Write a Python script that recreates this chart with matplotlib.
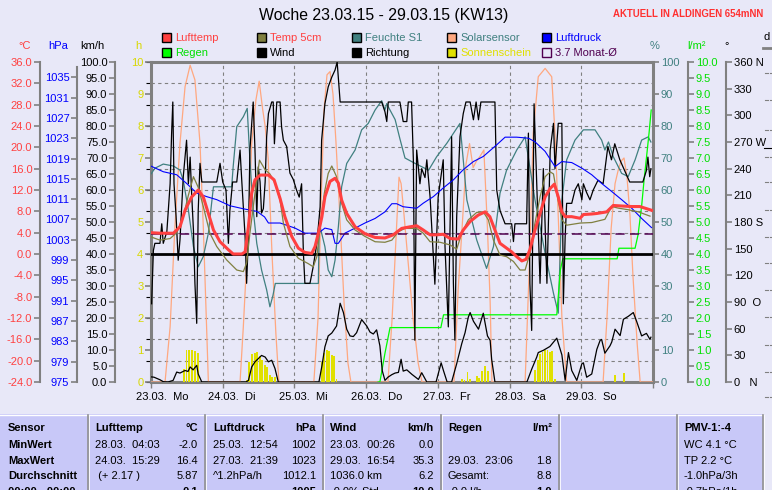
import numpy as np
import matplotlib.pyplot as plt
from matplotlib.patches import Rectangle
from matplotlib.lines import Line2D

plt.rcParams['font.family'] = ['Liberation Sans', 'DejaVu Sans']
plt.rcParams['font.size'] = 8

W, H = 772, 490
BG = '#e8e8f8'
TABLE_BG = '#c8c8f8'
GRID = '#808080'

# time axis: hours since 23.03. 00:00
day_labels = ['23.03.  Mo', '24.03.  Di', '25.03.  Mi', '26.03.  Do',
              '27.03.  Fr', '28.03.  Sa', '29.03.  So']

# Lufttemp (degC)
temp_t = [0, 3, 7.5, 9.7, 11.4, 13.6, 15.8, 17.5, 19.2, 20.9, 23.1, 25.9, 27.5, 30.4, 31.5,
          32.6, 33.7, 34.8, 36.5, 39.3, 41.2, 43.2, 44.8, 47.1, 49.3, 51.5, 53.8, 54.9, 56.0,
          57.2, 58.2, 59.9, 61.6, 62.7, 63.8, 65.5, 68.3, 71.6, 75.0, 78.3, 81.1, 83.9, 86.7,
          88.9, 91.1, 93.4, 95.6, 97.8, 100.1, 102.8, 104.5, 106.8, 109.5, 111.8, 113.4, 115.1,
          116.8, 119.0, 120.7, 122.4, 124.1, 125.5, 126.8, 128.5, 130.2, 131.9, 133.6, 135.0,
          136.3, 137.5, 138.6, 140.8, 143.6, 144.7, 147.5, 149.2, 152.5, 154.7, 157.5, 160.9,
          163.6, 165.3, 167.5]
temp_v = [4.0, 3.9, 3.9, 5.1, 8.2, 10.7, 12.0, 10.7, 7.6, 4.5, 2.3, 0.8, 0.0, 0.0, 0.4,
          5.1, 11.4, 13.9, 14.8, 14.8, 13.9, 10.4, 7.0, 3.3, 1.1, 0.3, 0.1, 1.4, 3.9,
          7.0, 10.7, 13.6, 14.2, 13.3, 10.1, 7.6, 5.1, 3.8, 3.1, 3.0, 3.6, 4.8, 5.1,
          5.3, 4.5, 3.6, 3.6, 3.7, 2.9, 2.8, 4.5, 6.1, 7.3, 7.9, 7.0, 4.5,
          2.0, 1.1, 0.4, -0.5, -1.3, -1.0, 0.8, 4.5, 7.6, 10.7, 12.3, 13.1,
          10.7, 7.9, 7.0, 7.0, 6.7, 7.4, 7.5, 7.6, 7.9, 9.1, 9.0, 8.9,
          8.9, 8.6, 8.2]

# Temp 5cm (degC)
soil_t = [0, 3.0, 6.4, 8.6, 10.8, 12.5, 14.2, 15.8, 17.5, 19.7, 22.0, 25.3, 28.7, 30.9, 32.0,
          33.1, 34.8, 36.3, 38.2, 39.8, 41.5, 43.2, 44.3, 46.5, 49.3, 52.6, 54.3, 55.5, 56.6,
          58.0, 59.3, 60.5, 62.1, 63.8, 65.5, 68.3, 71.6, 75.0, 78.3, 80.6, 82.8, 85.0, 88.9,
          91.1, 93.4, 96.7, 100.1, 102.3, 104.0, 106.2, 109.0, 111.2, 112.9, 114.6, 116.8,
          119.0, 121.3, 123.5, 125.2, 126.8, 128.5, 130.2, 131.9, 133.6, 134.7, 135.8, 137.5,
          139.1, 143.6, 147.5, 151.9, 154.2, 156.4, 159.7, 163.1, 167.0]
soil_v = [3.2, 2.6, 2.9, 4.0, 7.0, 11.0, 14.5, 12.5, 8.9, 3.9, 1.4, -1.1, -3.0, -3.3, -1.7,
          3.9, 11.4, 17.6, 15.8, 15.0, 13.3, 10.1, 5.8, 1.4, -0.8, -1.8, -2.4, -0.5, 5.1,
          11.4, 15.1, 16.5, 14.5, 9.5, 6.4, 4.5, 3.3, 2.3, 2.2, 2.6, 4.2, 4.8, 4.8,
          3.9, 2.3, 2.2, 1.7, 0.9, 3.9, 6.4, 7.8, 7.9, 6.4, 2.6, -0.2,
          -0.5, -1.4, -3.0, -3.0, 0.1, 5.8, 10.7, 14.5, 15.4, 15.0, 11.4, 6.4,
          5.4, 5.8, 5.9, 6.5, 8.9, 8.6, 8.3, 7.9, 7.1]

# Luftdruck (hPa)
press_t = [0, 4.1, 8.6, 11.9, 15.3, 18.6, 22.0, 26.4, 30.9, 35.4, 38.0, 39.3, 43.2, 48.2, 51.5,
           56.0, 58.2, 60.5, 61.6, 62.7, 64.9, 68.3, 71.6, 75.0, 78.3, 80.6, 82.2, 84.4, 88.9,
           91.1, 94.5, 97.8, 101.2, 104.5, 107.9, 111.2, 115.7, 118.5, 122.4, 126.3, 128.5,
           131.9, 135.2, 137.5, 140.8, 144.2, 147.5, 150.8, 154.2, 157.5, 160.9, 164.2, 167.5]
press_v = [1017.5, 1016.4, 1015.8, 1014.1, 1012.2, 1011.5, 1010.9, 1009.7, 1009.1, 1008.6,
           1007.5, 1006.3, 1006.3, 1005.3, 1004.3, 1004.3, 1005.3, 1005.0, 1002.3, 1002.3,
           1004.3, 1005.3, 1006.3, 1007.2, 1008.5, 1010.1, 1010.1, 1009.5, 1009.2, 1010.2,
           1011.5, 1013.2, 1014.8, 1016.8, 1018.4, 1019.4, 1021.7, 1023.2, 1023.2, 1023.0,
           1022.3, 1020.4, 1017.4, 1018.4, 1018.2, 1017.1, 1015.8, 1014.1, 1012.5, 1010.9,
           1009.2, 1007.2, 1005.4]

# Feuchte S1 (%)
hum_t = [0, 1.3, 4.1, 7.5, 9.7, 10.8, 12.5, 14.2, 15.8, 17.5, 19.2, 20.3, 20.9, 27.0, 27.5,
         28.7, 30.9, 32.2, 33.1, 34.2, 35.4, 37.0, 38.7, 39.8, 40.8, 41.6, 56.0, 56.3, 58.2,
         59.3, 60.5, 61.6, 62.7, 63.8, 65.5, 68.3, 70.5, 72.7, 75.0, 77.2, 78.3, 78.9, 79.4,
         81.7, 83.3, 85.0, 88.4, 92.9, 95.6, 99.0, 103.4, 104.5, 105.7, 109.0, 112.3, 114.6,
         116.8, 119.0, 122.4, 125.2, 128.5, 131.9, 134.7, 136.3, 137.5, 139.1, 141.9, 144.7,
         148.6, 150.8, 151.9, 153.1, 154.7, 157.5, 159.7, 162.0, 164.2, 166.4, 167.3]
hum_v = [65, 66.8, 68.1, 67.5, 66.2, 63, 53.8, 42.3, 36, 39.2, 46.5, 56, 61, 61, 67.3,
         79.8, 82.9, 85.5, 69.4, 53.8, 43.3, 35, 28.8, 23.5, 27, 30.8, 30.8, 49.6, 42.3,
         35, 32.9, 38.1, 48.5, 61, 68.3, 72.5, 78.8, 80.8, 85, 87.9, 85, 87, 86,
         82, 76, 70, 68.3, 66.2, 70.4, 74.6, 80.8, 69.4, 56.9, 44.4, 35.5, 42.3,
         59, 66.2, 72.5, 76.6, 56.9, 40.2, 27.7, 21.5, 56.9, 69.4, 75.6, 78.8,
         78.8, 75.6, 72.5, 75, 70.4, 65.2, 64.2, 69.4, 75.6, 76.6, 75]

# Solarsensor (W/m2)
solar_t = [0, 4.0, 4.7, 6.4, 8.0, 9.7, 11.4, 13.1, 14.7, 16.4, 17.5, 18.6, 19.2,
           29.8, 30.9, 32.6, 33.7, 35.1, 36.2, 37.4, 38.2, 39.2, 40.5, 41.8, 42.8,
           54.5, 55.9, 56.9, 57.9, 58.9, 59.9, 60.9, 61.9, 63.3, 64.6, 65.9, 66.9,
           79.3, 80.7, 82.0, 83.0, 83.7, 84.7, 86.0, 87.7, 89.4, 90.7,
           101.4, 102.8, 104.1, 105.4, 106.6, 107.8, 108.9, 110.1, 111.4, 112.6, 113.5, 114.1,
           125.2, 126.8, 127.9, 129.6, 131.9, 134.1, 135.2, 136.3, 137.5, 139.1,
           151.3, 152.6, 154.0, 155.3, 156.3, 157.3, 158.3, 159.3, 160.3, 161.3, 162.7, 163.7,
           168]
solar_v = [0, 0, 0, 173, 485, 746, 923, 990, 944, 746, 485, 173, 0,
           0, 173, 485, 746, 881, 940, 850, 800, 700, 400, 150, 0,
           0, 200, 550, 850, 960, 970, 900, 750, 500, 250, 60, 0,
           0, 200, 450, 640, 620, 520, 380, 200, 60, 0,
           0, 290, 480, 680, 745, 670, 690, 705, 725, 480, 250, 0,
           0, 412, 777, 954, 980, 954, 777, 516, 204, 0,
           0, 200, 480, 620, 660, 690, 700, 640, 520, 330, 120, 0,
           0]

# Sonnenschein (h per interval)
sun_t = [11.0, 11.9, 12.8, 13.8, 14.8, 15.7,
         32.0, 32.9, 33.9, 34.8, 35.6, 36.5, 37.2, 38.2, 38.9, 39.8, 40.6, 41.4,
         57.1, 58.0, 58.8, 59.6, 60.5, 61.2, 62.1,
         104.0, 104.9, 105.9, 106.8, 109.0, 109.9, 110.9, 111.9, 112.8,
         128.5, 129.4, 130.2, 131.0, 131.9, 132.7, 133.6, 134.3, 135.2,
         155.3, 158.3]
sun_v = [0.42, 1.0, 1.0, 1.0, 0.97, 0.92,
         0.06, 0.63, 0.88, 0.92, 0.95, 0.8, 0.7, 0.53, 0.47, 0.22, 0.17, 0.15,
         0.62, 0.92, 1.0, 0.97, 0.85, 0.8, 0.1,
         0.08, 0.05, 0.3, 0.1, 0.2, 0.12, 0.35, 0.5, 0.35,
         0.38, 0.7, 0.88, 0.95, 1.0, 1.0, 0.95, 0.97, 0.1,
         0.22, 0.27]

# Wind (km/h)
wind_t = [0, 1.0, 2.0, 3.0, 4.1, 5.7, 7.4, 8.6, 9.7, 11.4, 12.4, 13.1, 14.1, 15.3, 15.8, 17.0,
          31.8, 32.6, 33.7, 34.8, 35.9, 37.0, 38.2, 39.3, 40.4, 41.5, 42.6,
          56.2, 57.2, 58.2, 59.3, 60.5, 62.1, 63.3, 64.4, 65.5, 66.6, 67.7, 68.8, 70.5, 72.2,
          73.3, 74.4, 75.5, 76.6, 77.4, 78.3, 79.3, 80.6, 81.7, 82.8, 83.7, 84.4, 85.6, 87.3,
          89.5, 90.6, 92.3,
          95.4, 97.1, 97.9, 99.1, 100.6, 102.3, 104.0, 105.1, 106.2, 106.8, 107.9, 109.6,
          111.2, 112.6, 113.5, 114.0, 115.1,
          125.8, 127.4, 129.1, 129.6, 131.3, 133.5, 135.8, 137.5, 138.6, 139.7, 140.8, 142.5,
          144.2, 144.7, 145.8, 147.5, 149.2, 150.3, 150.8, 151.9, 153.6, 154.2, 155.3, 157.0,
          158.1, 159.7, 161.4, 162.5, 164.2, 165.8, 167.0, 167.3]
wind_v = [1.6, 1.5, 1.1, 0.7, 0.1, 0, 0.5, 3.1, 2.8, 3.6, 3.3, 4.7, 3.8, 5.2, 2.5, 0,
          0, 0.5, 4.7, 6.3, 7.3, 8.3, 7.8, 6.3, 6.8, 4.2, 0,
          0, 5, 11, 14.4, 15.3, 17.5, 24.6, 21.7, 16.5, 14.4, 14.2, 15.4, 19.5, 17.5,
          15.6, 15, 16.3, 11.3, 3.5, 0.5, 1.5, 2.3, 2.8, 3.0, 7.1, 3.4, 3.8, 2.4,
          0.8, 2.9, 0,
          0, 6.0, 3.5, 0, 0, 5.7, 12, 15.4, 20.3, 21.7, 19, 16.5,
          21.5, 14.4, 13, 7.1, 0,
          0, 4.0, 7.8, 9.2, 9.9, 11.1, 13.7, 8.5, 0.5, 9.2, 3.6, 0.5,
          5.7, 6.0, 1.5, 2.5, 10.2, 13, 13.3, 9, 11.3, 12.5, 16.5, 14.5,
          19.6, 20.5, 21.7, 19, 14.4, 15.2, 13.3, 14]

# Richtung (deg)
dir_t = [0.2, 0.8, 1.3, 3.0, 3.6, 4.1, 5.3, 6.4, 6.9, 7.3, 7.7, 8.4, 9.1, 9.7, 10.8, 11.9,
         12.5, 13.1, 13.6, 14.2, 14.7, 15.3, 15.8, 16.4, 17.0, 22.0, 23.1, 24.0, 25.1, 25.9,
         26.4, 27.3, 28.7, 29.8, 30.4, 31.5, 32.0, 32.6, 33.1, 34.2, 34.8, 35.4, 35.9, 36.5,
         37.0, 37.6, 38.2, 38.7, 39.3, 40.4, 40.9, 41.3, 42.1, 43.2, 43.7, 44.3, 45.4, 46.5,
         47.6, 48.7, 49.6, 50.4, 51.0, 51.5, 53.2, 54.3, 55.5, 56.6, 57.1, 58.2, 59.3, 60.5,
         61.6, 62.3, 63.3, 77.2, 78.3, 78.9, 79.4, 83.3, 84.4, 85.6, 86.1, 87.2, 87.8, 88.3,
         88.9, 90.0, 90.6, 91.7, 92.3, 93.4, 95.0, 96.1, 97.8, 98.4, 99.5, 100.6, 101.2, 101.7,
         102.3, 103.4, 104.5, 105.4, 106.8, 107.9, 108.8, 109.6, 110.4, 115.1, 115.7, 116.8,
         118.5, 120.7, 121.3, 121.8, 125.7, 126.3, 126.8, 127.4, 128.2, 129.1, 130.2, 131.3,
         132.5, 133.6, 134.7, 135.2, 136.3, 137.5, 138.0, 138.6, 139.1, 140.8, 141.9, 143.0,
         144.2, 144.7, 145.8, 146.9, 148.0, 149.6, 151.3, 152.9, 154.1, 155.2, 156.9, 158.5,
         160.2, 164.6, 165.8, 166.3, 166.9, 167.3]
dir_v = [88, 148, 156, 156, 178, 156, 169, 223, 280, 315, 223, 186, 137, 160, 231, 272,
         223, 253, 212, 171, 111, 66, 193, 246, 225, 225, 246, 225, 216, 156,
         193, 225, 225, 261, 225, 163, 111, 163, 261, 315, 261, 186, 242, 225,
         190, 195, 225, 276, 302, 315, 315, 268, 315, 315, 287, 272, 265, 235,
         228, 216, 208, 223, 145, 111, 111, 130, 156, 197, 272, 313, 332, 343,
         351, 360, 315, 315, 304, 293, 315, 315, 293, 293, 315, 315, 250, 47,
         261, 223, 240, 230, 250, 208, 110, 208, 250, 152, 62, 276, 111, 47,
         186, 276, 302, 315, 315, 295, 315, 295, 315, 315, 216, 193,
         178, 178, 158, 178, 178, 280, 111, 58, 313, 223, 111, 240,
         111, 261, 291, 240, 291, 291, 88, 163, 201, 201, 216, 223,
         205, 223, 213, 205, 216, 227, 223, 265, 250, 268, 250, 238,
         225, 225, 238, 253, 231, 240]

# Regen (l/m2, cumulative)
rain_t = [76.0, 76.6, 78.3, 80.0, 97.0, 97.9, 135.8, 137.0, 137.8, 156.0, 156.6, 162.0,
          163.0, 164.2, 165.0, 165.8, 166.7, 167.4]
rain_v = [0, 0, 0.9, 1.7, 1.7, 2.1, 2.1, 3.5, 3.85, 3.85, 4.18, 4.18,
          4.6, 5.5, 6.3, 7.0, 7.8, 8.5]

month_mean = 3.7

# table below the chart
table_cols = [
    ['Sensor', 'MinWert', 'MaxWert', 'Durchschnitt'],
    ['28.03.  04:03', '24.03.  15:29', ' (+ 2.17 )'],
    ['-2.0', '16.4', '5.87'],
    ['25.03.  12:54', '27.03.  21:39', '^1.2hPa/h'],
    ['1002', '1023', '1012.1'],
    ['23.03.  00:26', '29.03.  16:54', '1036.0 km'],
    ['0.0', '35.3', '6.2'],
    ['', '29.03.  23:06', 'Gesamt:'],
    ['', '1.8', '8.8'],
    ['WC 4.1 \u00b0C', 'TP 2.2 \u00b0C', '-1.0hPa/3h'],
]
table_heads = [('Lufttemp', '\u00b0C'), ('Luftdruck', 'hPa'), ('Wind', 'km/h'), ('Regen', 'l/m\u00b2')]
# last row, only the top of it is inside the picture
table_cut = [(8, 'left', '00:00 - 00:00', True), (198, 'right', '0.1', True),
             (316, 'right', '1005', True), (330, 'left', '-0.0% Std.', False),
             (434, 'right', '10.0', True), (448, 'left', '-0.0 l/h', False),
             (552, 'right', '1.0', True), (684, 'left', '-0.7hPa/1h', False)]


def fx(x):
    return x / W


def fy(y):
    return 1 - y / H


fig = plt.figure(figsize=(W / 100, H / 100), dpi=100, facecolor=BG)

ax = fig.add_axes([fx(151), fy(382), 502 / W, 320 / H])
ax.set_facecolor(BG)
ax.set_xlim(0, 168)
ax.set_ylim(-24, 36)
ax.set_yticks(np.arange(-24, 37, 4))
ax.set_xticks(np.arange(0, 169, 24))
ax.grid(True, color=GRID, ls=(0, (3, 3)), lw=0.8)
ax.tick_params(labelleft=False, labelbottom=False, left=False)
ax.tick_params(axis='x', length=4, color=GRID, width=1)
for s in ax.spines.values():
    s.set_color(GRID)
    s.set_linewidth(2.2)


def unit_axis(lo, hi, ticks=None, labels=None, color='black', side='left', pos=None):
    a = ax.twinx()
    a.set_xlim(0, 168)
    a.set_ylim(lo, hi)
    for s in a.spines.values():
        s.set_visible(False)
    if ticks is None:
        a.set_yticks([])
        return a
    a.yaxis.set_ticks_position(side)
    if pos is not None:
        sp = a.spines[side]
        sp.set_visible(True)
        sp.set_position(('axes', pos))
        sp.set_color(GRID)
        sp.set_linewidth(1.5)
    a.set_yticks(ticks)
    a.set_yticklabels(labels)
    a.tick_params(axis='y', color=GRID, labelcolor=color, length=4, width=1.2, pad=1.5)
    return a


h_ticks = list(range(0, 11))
ax_h = unit_axis(0, 10, h_ticks, [str(v) for v in h_ticks], '#d8d800')
ax_sol = unit_axis(0, 1000)
pc_ticks = list(range(0, 101, 10))
ax_pc = unit_axis(0, 100, pc_ticks, [str(v) for v in pc_ticks], '#408080', 'right')
r_ticks = np.arange(0, 10.01, 0.5)
ax_r = unit_axis(0, 10, r_ticks, ['%.1f' % v for v in r_ticks], '#00e000', 'right', 537 / 502)
d_ticks = list(range(0, 361, 30))
d_names = {0: '0   N', 90: '90  O', 180: '180 S', 270: '270 W', 360: '360 N'}
ax_d = unit_axis(0, 360, d_ticks, [d_names.get(v, str(v)) for v in d_ticks], 'black', 'right', 575 / 502)
w_ticks = np.arange(0, 100.1, 5)
ax_w = unit_axis(0, 100, w_ticks, ['%.1f' % v for v in w_ticks], 'black', 'left', -36 / 502)
p_ticks = list(range(975, 1036, 4))
ax_p = unit_axis(975, 1038, p_ticks, [str(v) for v in p_ticks], '#0000ff', 'left', -74 / 502)
ax_p.spines['left'].set_bounds(975, 1037)
t_ticks = np.arange(-24, 36.1, 4)
ax_t = unit_axis(-24, 36, t_ticks, ['%.1f' % v for v in t_ticks], '#ff4040', 'left', -111 / 502)

# series
ax_h.bar(sun_t, sun_v, width=0.6, color='#e0e000', linewidth=0)
ax_sol.plot(solar_t, solar_v, color='#ffa880', lw=0.9)
ax_pc.plot(hum_t, hum_v, color='#408080', lw=0.9)
ax_r.plot(rain_t, rain_v, color='#00ff00', lw=0.9)
ax_d.plot(dir_t, dir_v, color='black', lw=0.9)
ax_w.plot(wind_t, wind_v, color='black', lw=0.9)
ax_p.plot(press_t, press_v, color='#0000ff', lw=0.8)
ax_t.axhline(0, color='black', lw=2.0)
ax_t.axhline(month_mean, color='#500050', lw=1.1, dashes=(6, 3.5))
ax_t.plot(soil_t, soil_v, color='#808040', lw=0.9)
ax_t.plot(temp_t, temp_v, color='#ff4040', lw=2.2)

# day labels
for i, lab in enumerate(day_labels):
    fig.text(fx(151 + i * 502 / 7 - 15), fy(397), lab, ha='left', va='center', fontsize=8)

# title
fig.text(fx(384), fy(15.5), 'Woche 23.03.15 - 29.03.15 (KW13)', ha='center', va='center', fontsize=11.4)
fig.text(fx(763), fy(14), 'AKTUELL IN ALDINGEN 654mNN', ha='right', va='center',
         fontsize=6.9, fontweight='bold', color='#ff3030')

# legend
legend = [
    ('Lufttemp', '#ff4040', '#ff4040'), ('Regen', '#00ff00', '#00e000'),
    ('Temp 5cm', '#808040', '#ff4040'), ('Wind', 'black', 'black'),
    ('Feuchte S1', '#408080', '#408080'), ('Richtung', 'black', 'black'),
    ('Solarsensor', '#ffa880', '#408080'), ('Sonnenschein', '#e0e000', '#e0e000'),
    ('Luftdruck', '#0000ff', '#0000ff'), ('3.7 Monat-\u00d8', 'none', '#500050'),
]
for i, (name, fc, tc) in enumerate(legend):
    col, row = divmod(i, 2)
    x0 = 162 + col * 95
    y0 = 38 + row * 14.5
    ec = '#500050' if fc == 'none' else 'black'
    fig.add_artist(Rectangle((fx(x0), fy(y0 + 4.5)), 9 / W, 9 / H, transform=fig.transFigure,
                             facecolor=fc, edgecolor=ec, lw=1))
    fig.text(fx(x0 + 13), fy(y0), name, ha='left', va='center', fontsize=8, color=tc)

# unit labels
units = [(25, '\u00b0C', '#ff4040'), (58, 'hPa', '#0000ff'), (92, 'km/h', 'black'),
         (138, 'h', '#d8d800'), (655, '%', '#408080'), (697, 'l/m\u00b2', '#00e000'),
         (727, '\u00b0', 'black')]
for x0, txt, c in units:
    fig.text(fx(x0), fy(46), txt, ha='center', va='center', fontsize=8, color=c)

# clipped neighbour panel on the right edge
fig.text(fx(764), fy(37), 'd', ha='left', va='center', fontsize=8)
fig.add_artist(Line2D([fx(763), fx(772)], [fy(48), fy(48)], color=GRID, lw=2))
for yy in [73, 100, 130, 157, 182, 210, 237, 263, 290, 317, 345, 372, 397]:
    fig.add_artist(Line2D([fx(765), fx(768)], [fy(yy), fy(yy)], color=GRID, lw=0.8))
    fig.add_artist(Line2D([fx(770), fx(772)], [fy(yy), fy(yy)], color=GRID, lw=0.8))
fig.add_artist(Line2D([fx(764), fx(772)], [fy(148), fy(148)], color='black', lw=0.8))

# table
fig.add_artist(Rectangle((0, 0), fx(763), (490 - 414) / H, transform=fig.transFigure,
                         facecolor=TABLE_BG, edgecolor='none'))
fig.add_artist(Line2D([0, fx(763)], [fy(414.5), fy(414.5)], color='white', lw=1))
for xs in [88, 205, 323, 441, 559, 677, 763]:
    fig.add_artist(Line2D([fx(xs), fx(xs)], [fy(415), 0], color='#909090', lw=1.2))
    fig.add_artist(Line2D([fx(xs + 1.2), fx(xs + 1.2)], [fy(415), 0], color='white', lw=0.6))

rows_y = [428, 445, 460.5, 476]
for j, txt in enumerate(table_cols[0]):
    fig.text(fx(8), fy(rows_y[j]), txt, ha='left', va='center', fontsize=8, fontweight='bold')
heads_x = [(95, 198), (213, 316), (330, 434), (448, 552)]
for k, ((name, unit), (xl, xr)) in enumerate(zip(table_heads, heads_x)):
    fig.text(fx(xl), fy(rows_y[0]), name, ha='left', va='center', fontsize=8, fontweight='bold')
    fig.text(fx(xr), fy(rows_y[0]), unit, ha='right', va='center', fontsize=8, fontweight='bold')
    left_vals = table_cols[1 + 2 * k]
    right_vals = table_cols[2 + 2 * k]
    for j in range(3):
        fig.text(fx(xl), fy(rows_y[j + 1]), left_vals[j], ha='left', va='center', fontsize=8)
        fig.text(fx(xr), fy(rows_y[j + 1]), right_vals[j], ha='right', va='center', fontsize=8)
fig.text(fx(684), fy(rows_y[0]), 'PMV-1:-4', ha='left', va='center', fontsize=8, fontweight='bold')
for j, txt in enumerate(table_cols[9]):
    fig.text(fx(684), fy(rows_y[j + 1]), txt, ha='left', va='center', fontsize=8)
for xx, ha, txt, bold in table_cut:
    fig.text(fx(xx), fy(492), txt, ha=ha, va='center', fontsize=8,
             fontweight='bold' if bold else 'normal')

fig.savefig('out.png', dpi=100, facecolor=BG)
